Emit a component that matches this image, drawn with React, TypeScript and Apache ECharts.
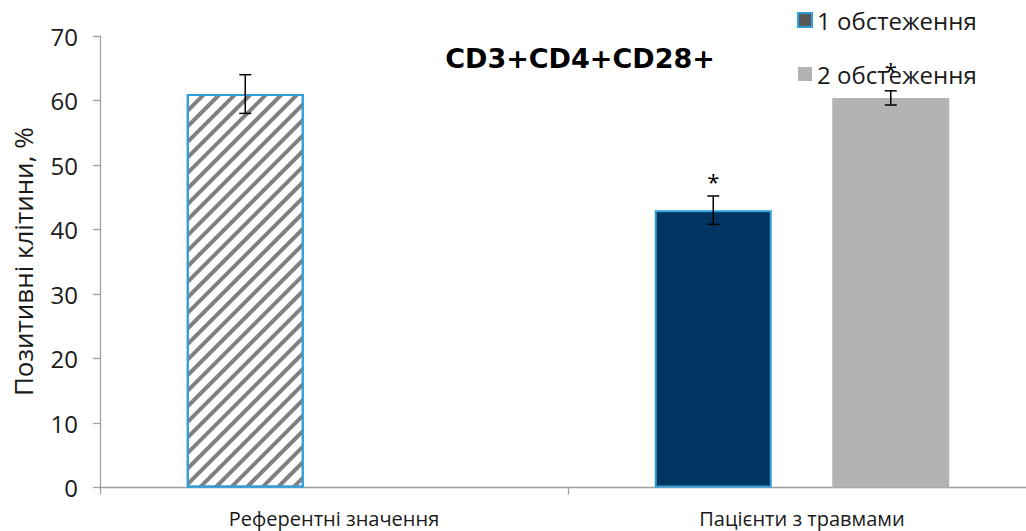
import React, { useEffect, useRef } from "react";
import * as echarts from "echarts";

const categories = ["Референтні значення", "Пацієнти з травмами"];
const seriesNames = ["1 обстеження", "2 обстеження"];
const tickValues = { min: 0, max: 70, interval: 10 };

const values1 = [61, 43];
const errors1 = [3, 2.2];
const stars1: (number | null)[] = [null, 48.5];

const values2: (number | null)[] = [null, 60.4];
const errors2: (number | null)[] = [null, 1.1];
const stars2: (number | null)[] = [null, 65.6];

const titleText = "CD3+CD4+CD28+";
const yAxisName = "Позитивні клітини, %";

const BAR_WIDTH = 117;
const GAP_PX = 60.5;
const FONT = "'Open Sans', sans-serif";

export default function App() {
  const ref = useRef<HTMLDivElement>(null);

  useEffect(() => {
    if (!ref.current) return;
    const chart = echarts.init(ref.current, undefined, { renderer: "svg" });

    const slotOffset = (BAR_WIDTH + GAP_PX) / 2;

    const errData = (vals: (number | null)[], errs: (number | null)[], stars: (number | null)[]) =>
      vals
        .map((v, i) =>
          v == null || errs[i] == null
            ? null
            : [i, v - (errs[i] as number), v + (errs[i] as number), stars[i] == null ? -1 : stars[i]]
        )
        .filter((d) => d !== null);

    const makeErrRender = (offset: number) => (params: any, api: any) => {
      const idx = api.value(0);
      const low = api.coord([idx, api.value(1)]);
      const high = api.coord([idx, api.value(2)]);
      const x = low[0] + offset;
      const cap = 6;
      const style = { stroke: "#000", lineWidth: 1.5 };
      const children: any[] = [
        { type: "line", shape: { x1: x, y1: low[1], x2: x, y2: high[1] }, style },
        { type: "line", shape: { x1: x - cap, y1: low[1], x2: x + cap, y2: low[1] }, style },
        { type: "line", shape: { x1: x - cap, y1: high[1], x2: x + cap, y2: high[1] }, style },
      ];
      const starV = api.value(3);
      if (starV >= 0) {
        const sp = api.coord([idx, starV]);
        children.push({
          type: "text",
          x: x,
          y: sp[1] + 6,
          style: {
            text: "*",
            fontSize: 22,
            fontFamily: FONT,
            fill: "#000",
            align: "center",
            verticalAlign: "middle",
          },
        });
      }
      return { type: "group", children };
    };

    const hatch = {
      color: "#808080",
      backgroundColor: "#ffffff",
      dashArrayX: [1, 0],
      dashArrayY: [3.5, 6.5],
      rotation: -Math.PI / 4,
      symbol: "rect",
      symbolSize: 1,
    };

    chart.setOption({
      animation: false,
      backgroundColor: "#ffffff",
      grid: { left: 100, width: 936, top: 36, bottom: 43.5, outerBoundsMode: "none", containLabel: false },
      graphic: [
        {
          type: "text",
          x: 580,
          y: 58,
          style: {
            text: titleText,
            fontSize: 27,
            fontWeight: "bold",
            fontFamily: "'DejaVu Sans', sans-serif",
            fill: "#000",
            align: "center",
            verticalAlign: "middle",
          },
        },
      ],
      legend: {
        data: seriesNames,
        orient: "vertical",
        left: 797,
        top: 6,
        padding: 0,
        itemWidth: 14,
        itemHeight: 14,
        itemGap: 26,
        icon: "rect",
        textStyle: { fontSize: 24, lineHeight: 28, fontFamily: FONT, color: "#1a1a1a" },
      },
      xAxis: {
        type: "category",
        data: categories,
        axisLine: { lineStyle: { color: "#a0a0a0", width: 1.3 } },
        axisTick: { show: true, length: 7, lineStyle: { color: "#a0a0a0", width: 1.3 } },
        axisLabel: { fontSize: 20, fontFamily: FONT, color: "#1a1a1a", margin: 21 },
      },
      yAxis: {
        type: "value",
        min: tickValues.min,
        max: tickValues.max,
        interval: tickValues.interval,
        name: yAxisName,
        nameLocation: "middle",
        nameGap: 64,
        nameRotate: 90,
        nameTextStyle: { fontSize: 26, fontFamily: FONT, color: "#1a1a1a" },
        axisLine: { show: true, lineStyle: { color: "#a0a0a0", width: 1.3 } },
        axisTick: { show: true, length: 7, lineStyle: { color: "#a0a0a0", width: 1.3 } },
        axisLabel: { fontSize: 24, fontFamily: FONT, color: "#1a1a1a", margin: 22 },
        splitLine: { show: false },
      },
      series: [
        {
          name: seriesNames[0],
          type: "bar",
          barWidth: BAR_WIDTH,
          barGap: (GAP_PX / BAR_WIDTH) * 100 + "%",
          itemStyle: { color: "#595959", borderColor: "#2e9fd9", borderWidth: 2 },
          data: values1.map((v, i) => ({
            value: v,
            itemStyle: i === 0 ? { color: "#ffffff", decal: hatch } : { color: "#003561" },
          })),
        },
        {
          name: seriesNames[1],
          type: "bar",
          barWidth: BAR_WIDTH,
          itemStyle: { color: "#b3b3b3" },
          data: values2.map((v) => (v == null ? "-" : v)),
        },
        {
          name: "err1",
          type: "custom",
          renderItem: makeErrRender(-slotOffset),
          data: errData(values1, errors1, stars1),
          z: 10,
        },
        {
          name: "err2",
          type: "custom",
          renderItem: makeErrRender(slotOffset),
          data: errData(values2, errors2, stars2),
          z: 10,
        },
      ],
    });

    return () => chart.dispose();
  }, []);

  return (
    <div
      ref={ref}
      style={{ position: "fixed", left: 0, top: 0, width: 1026, height: 531, background: "#fff" }}
    />
  );
}
